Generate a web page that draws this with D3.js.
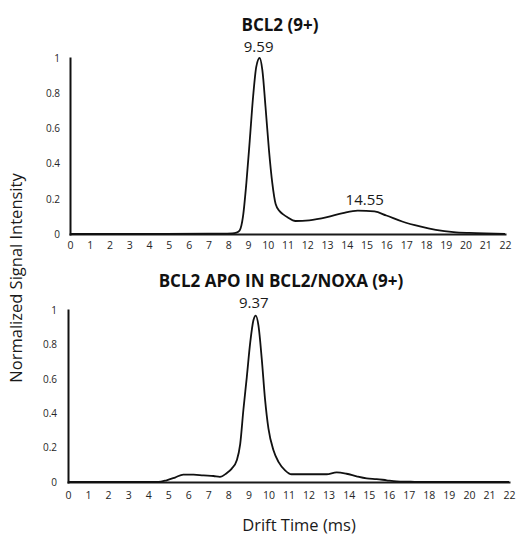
<!DOCTYPE html>
<html>
<head>
<meta charset="utf-8">
<title>Drift time profiles</title>
<script src="https://d3js.org/d3.v7.min.js"></script>
<style>
  body { margin: 0; background: #fff; }
  svg text { font-family: "Open Sans", "Noto Sans", sans-serif; }
</style>
</head>
<body>
<div id="chart"></div>
<script>
    // shared axis ticks
    var xTicks = d3.range(0, 23);
    var yTicks = [0, 0.2, 0.4, 0.6, 0.8, 1];

    // BCL2 (9+)
    var driftTop = [0, 7, 8.2, 8.42, 8.58, 8.75, 8.92, 9.09, 9.26, 9.42, 9.59, 9.73, 9.89, 10.06, 10.23, 10.4,
        10.6, 10.8, 11.0, 11.4, 12.1, 13.0, 13.8, 14.55, 15.4, 16.0, 16.8, 17.7, 18.5, 19.4, 20.2, 21.0, 22];
    var intensityTop = [0, 0.002, 0.004, 0.008, 0.02, 0.10, 0.29, 0.53, 0.78, 0.95, 1.0, 0.93, 0.72, 0.48, 0.29, 0.17,
        0.13, 0.11, 0.095, 0.074, 0.078, 0.096, 0.119, 0.133, 0.128, 0.105, 0.071, 0.043, 0.024, 0.011, 0.006, 0.003, 0.001];
    var peaksTop = [9.59, 14.55];

    // BCL2 APO in BCL2/NOXA (9+)
    var driftBottom = [0, 4.5, 4.92, 5.34, 5.75, 6.26, 6.76, 7.26, 7.58, 7.9, 8.17, 8.42, 8.59, 8.75, 8.92, 9.09, 9.25,
        9.37, 9.5, 9.67, 9.83, 10.0, 10.25, 10.5, 10.83, 11.15, 11.6, 12.2, 12.9, 13.4, 13.9, 14.4, 14.9, 15.4, 15.9,
        16.4, 17.1, 17.6, 22];
    var intensityBottom = [0, 0, 0.01, 0.026, 0.043, 0.043, 0.038, 0.035, 0.03, 0.05, 0.078, 0.126, 0.22, 0.42, 0.61,
        0.81, 0.94, 0.967, 0.91, 0.71, 0.48, 0.31, 0.185, 0.117, 0.068, 0.045, 0.045, 0.045, 0.045, 0.056, 0.048, 0.033,
        0.021, 0.017, 0.01, 0.004, 0.002, 0, 0];
    var peaksBottom = [9.37];

    var width = 516, height = 537;

    var svg = d3.select("#chart").append("svg")
        .attr("width", width)
        .attr("height", height);

    // one panel: axes, trace, title and peak labels
    function DrawPanel(opt) {
        var x = d3.scaleLinear().domain([0, 22]).range([opt.left, opt.right]);
        var y = d3.scaleLinear().domain([0, 1]).range([opt.bottom, opt.top]);
        var g = svg.append("g");

        var xAxis = g.append("g")
            .attr("transform", "translate(0," + opt.bottom + ")")
            .call(d3.axisBottom(x).tickValues(xTicks).tickSize(0).tickPadding(opt.xPad).tickFormat(d3.format("d")));
        xAxis.select(".domain").attr("stroke", "#1a1a1a").attr("stroke-width", 2);
        xAxis.selectAll("text").attr("font-size", "10.5px").attr("fill", "#262626");

        var yAxis = g.append("g")
            .attr("transform", "translate(" + opt.left + ",0)")
            .call(d3.axisLeft(y).tickValues(yTicks).tickSize(0).tickPadding(opt.yPad).tickFormat(d3.format("~g")));
        yAxis.select(".domain").attr("stroke", "#111").attr("stroke-width", 2);
        yAxis.selectAll("text").attr("font-size", "10px").attr("fill", "#262626");
        g.selectAll(".domain").attr("stroke-linecap", "square");

        var line = d3.line()
            .x(function (d) { return x(d[0]); })
            .y(function (d) { return y(d[1]); })
            .curve(d3.curveMonotoneX);

        g.append("path")
            .datum(d3.zip(opt.drift, opt.intensity))
            .attr("d", line)
            .attr("fill", "none")
            .attr("stroke", "#111")
            .attr("stroke-width", 1.8)
            .attr("stroke-linejoin", "round");

        g.append("text")
            .attr("x", opt.titleX)
            .attr("y", opt.titleY)
            .attr("text-anchor", "middle")
            .attr("font-size", "17px")
            .attr("font-weight", "bold")
            .attr("fill", "#111")
            .text(opt.title);

        opt.peaks.forEach(function (p, i) {
            var k = opt.drift.indexOf(p);
            g.append("text")
                .attr("x", x(p) + opt.peakDx[i])
                .attr("y", y(opt.intensity[k]) + opt.peakDy[i])
                .attr("text-anchor", "middle")
                .attr("font-size", "15px")
                .attr("fill", "#1a1a1a")
                .text(d3.format(".2f")(p));
        });
    }

    DrawPanel({
        left: 70, right: 505, top: 58, bottom: 234, xPad: 8, yPad: 10,
        drift: driftTop, intensity: intensityTop, peaks: peaksTop,
        peakDx: [-1, 7], peakDy: [-6, -6],
        title: "BCL2 (9+)", titleX: 280, titleY: 31
    });

    DrawPanel({
        left: 68, right: 509, top: 310, bottom: 482, xPad: 10, yPad: 11,
        drift: driftBottom, intensity: intensityBottom, peaks: peaksBottom,
        peakDx: [-2], peakDy: [-8],
        title: "BCL2 APO IN BCL2/NOXA (9+)", titleX: 281, titleY: 287
    });

    // shared axis titles
    svg.append("text")
        .attr("transform", "translate(22,278) rotate(-90)")
        .attr("text-anchor", "middle")
        .attr("font-size", "16.5px")
        .attr("fill", "#1a1a1a")
        .text("Normalized Signal Intensity");

    svg.append("text")
        .attr("x", 299)
        .attr("y", 531)
        .attr("text-anchor", "middle")
        .attr("font-size", "16.5px")
        .attr("fill", "#1a1a1a")
        .text("Drift Time (ms)");
</script>
</body>
</html>
